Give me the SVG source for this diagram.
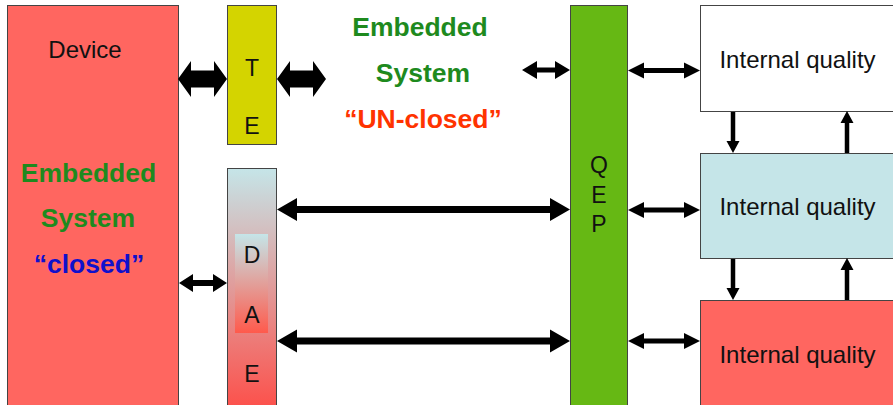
<svg xmlns="http://www.w3.org/2000/svg" width="893" height="405" viewBox="0 0 893 405">
<defs>
<linearGradient id="gDae" x1="0" y1="0" x2="0" y2="1">
<stop offset="0" stop-color="#c5e5e8"/>
<stop offset="1" stop-color="#ff4a44"/>
</linearGradient>
<linearGradient id="gIn" x1="0" y1="0" x2="0" y2="1">
<stop offset="0" stop-color="#c5e5e8"/>
<stop offset="1" stop-color="#ff5a4c"/>
</linearGradient>
<style>
.box{stroke:#444;stroke-width:1}
.t{font-family:"Liberation Sans",Arial,sans-serif;font-size:24px;fill:#111;text-anchor:middle}
.l{font-family:"Liberation Sans",Arial,sans-serif;font-size:23px;fill:#111;text-anchor:middle}
.b{font-family:"Liberation Sans",Arial,sans-serif;font-size:26.5px;font-weight:bold;text-anchor:middle}
.g{fill:#1e8a1e}
.arr{fill:#000}
</style>
</defs>
<rect width="893" height="405" fill="#fff"/>
<g id="device">
<rect class="box" x="7.5" y="5.5" width="171" height="410" fill="#ff6660"/>
<text class="t" x="85" y="58">Device</text>
<text class="b g" x="88.5" y="182">Embedded</text>
<text class="b g" x="88" y="227">System</text>
<text class="b" x="89" y="273" fill="#1010cc">“closed”</text>
</g>
<g id="te">
<rect class="box" x="227.5" y="5.5" width="49" height="139" fill="#d4d400"/>
<text class="l" x="252" y="76">T</text>
<text class="l" x="252" y="134">E</text>
</g>
<g id="dae">
<rect class="box" x="227.5" y="168.5" width="49" height="250" fill="url(#gDae)"/>
<rect x="235" y="234" width="33" height="99" fill="url(#gIn)"/>
<text class="l" x="252" y="263">D</text>
<text class="l" x="252" y="323">A</text>
<text class="l" x="252" y="382">E</text>
</g>
<g id="unclosed">
<text class="b g" x="420" y="36">Embedded</text>
<text class="b g" x="423" y="82">System</text>
<text class="b" x="423" y="128" fill="#ff3300">“UN-closed”</text>
</g>
<g id="qep">
<rect class="box" x="570.5" y="5.5" width="57" height="410" fill="#66b814"/>
<text class="l" x="599" y="173">Q</text>
<text class="l" x="599" y="203">E</text>
<text class="l" x="599" y="232">P</text>
</g>
<g id="iq1">
<rect class="box" x="700.5" y="5.5" width="200" height="106" fill="#ffffff"/>
<text class="t" x="797.5" y="68">Internal quality</text>
</g>
<g id="iq2">
<rect class="box" x="700.5" y="153.5" width="200" height="105" fill="#c5e5e8"/>
<text class="t" x="797.5" y="215">Internal quality</text>
</g>
<g id="iq3">
<rect class="box" x="700.5" y="300.5" width="200" height="120" fill="#ff6660"/>
<text class="t" x="797.5" y="363">Internal quality</text>
</g>
<g id="connectors" class="arr">
<polygon points="178,79 191,61 191,70.5 214,70.5 214,61 227,79 214,97 214,87.5 191,87.5 191,97"/>
<polygon points="277,79 290,61 290,70.5 313,70.5 313,61 326,79 313,97 313,87.5 290,87.5 290,97"/>
<polygon points="522,70 537,61 537,67.5 555,67.5 555,61 570,70 555,79 555,72.5 537,72.5 537,79"/>
<polygon points="277,209.5 297,198 297,206 550,206 550,198 570,209.5 550,221 550,213 297,213 297,221"/>
<polygon points="277,341 297,329.5 297,337.5 550,337.5 550,329.5 570,341 550,352.5 550,344.5 297,344.5 297,352.5"/>
<polygon points="179,283 193,274 193,280 213,280 213,274 227,283 213,292 213,286 193,286 193,292"/>
<polygon points="628,70.5 644,62.5 644,68 684,68 684,62.5 700,70.5 684,78.5 684,73 644,73 644,78.5"/>
<polygon points="628,210 644,202 644,207.5 684,207.5 684,202 700,210 684,218 684,212.5 644,212.5 644,218"/>
<polygon points="628,341 644,333 644,338.5 684,338.5 684,333 700,341 684,349 684,343.5 644,343.5 644,349"/>
<polygon points="730.75,112 735.25,112 735.25,141 739.5,141 733,153 726.5,141 730.75,141"/>
<polygon points="844.75,153 849.25,153 849.25,123 853.5,123 847,111 840.5,123 844.75,123"/>
<polygon points="730.75,259 735.25,259 735.25,288 739.5,288 733,300 726.5,288 730.75,288"/>
<polygon points="844.75,300 849.25,300 849.25,270 853.5,270 847,258 840.5,270 844.75,270"/>
</g>
</svg>
